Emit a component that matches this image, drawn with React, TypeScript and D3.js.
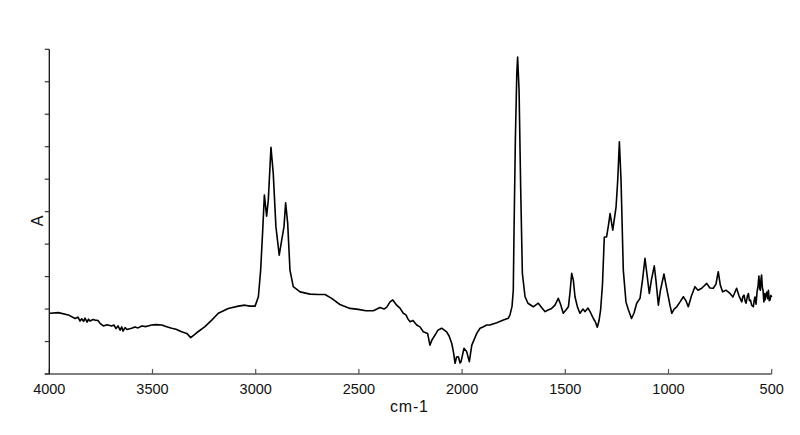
import React from "react";
import * as d3 from "d3";

// Wavenumbers (cm-1) and absorbance (arbitrary units)
const wavenumbers: number[] = [
  3997, 3956, 3908, 3875, 3861, 3851, 3843, 3834, 3827, 3817, 3810, 3803, 3788, 3779, 3764, 3754,
  3738, 3720, 3698, 3687, 3677, 3667, 3657, 3649, 3643, 3633, 3624, 3601, 3585, 3570, 3552, 3531,
  3504, 3483, 3455, 3435, 3407, 3386, 3359, 3334, 3315, 3286, 3246, 3213, 3181, 3133, 3084, 3052,
  3028, 3003, 2987, 2976, 2966, 2958, 2947, 2939, 2926, 2915, 2902, 2886, 2874, 2863, 2855, 2845,
  2834, 2818, 2785, 2737, 2698, 2664, 2632, 2592, 2543, 2503, 2466, 2430, 2398, 2378, 2365, 2349,
  2336, 2317, 2301, 2285, 2272, 2262, 2252, 2238, 2220, 2204, 2188, 2167, 2156, 2146, 2131, 2117,
  2099, 2075, 2063, 2050, 2042, 2034, 2027, 2018, 2010, 2005, 1991, 1978, 1965, 1953, 1929, 1913,
  1899, 1881, 1865, 1832, 1800, 1776, 1768, 1758, 1752, 1749, 1742, 1735, 1731, 1724, 1716, 1708,
  1695, 1681, 1655, 1631, 1613, 1598, 1584, 1566, 1550, 1534, 1523, 1510, 1497, 1485, 1477, 1469,
  1461, 1453, 1441, 1429, 1414, 1405, 1390, 1380, 1364, 1354, 1345, 1337, 1329, 1320, 1311, 1300,
  1291, 1283, 1270, 1254, 1246, 1238, 1230, 1219, 1206, 1194, 1179, 1167, 1154, 1138, 1126, 1114,
  1104, 1093, 1083, 1069, 1061, 1049, 1039, 1022, 1012, 1001, 993, 984, 973, 960, 944, 928,
  915, 904, 889, 872, 857, 839, 828, 815, 799, 783, 770, 759, 749, 738, 722, 702,
  688, 670, 658, 645, 640, 634, 629, 624, 618, 613, 608, 603, 597, 589, 585, 581,
  576, 571, 566, 562, 558, 555, 552, 549, 545, 542, 538, 535, 532, 528, 524, 520,
  516, 512, 508, 504, 500,
];

const absorbance: number[] = [
  0.187, 0.189, 0.182, 0.171, 0.175, 0.163, 0.170, 0.162, 0.172, 0.160, 0.169, 0.163, 0.168, 0.166, 0.165, 0.156,
  0.148, 0.152, 0.148, 0.151, 0.140, 0.148, 0.135, 0.145, 0.132, 0.143, 0.137, 0.141, 0.145, 0.142, 0.148, 0.146,
  0.151, 0.152, 0.151, 0.146, 0.141, 0.138, 0.130, 0.125, 0.112, 0.127, 0.146, 0.166, 0.187, 0.202, 0.209, 0.212,
  0.209, 0.209, 0.238, 0.320, 0.443, 0.551, 0.486, 0.535, 0.698, 0.618, 0.453, 0.366, 0.412, 0.453, 0.527, 0.464,
  0.320, 0.269, 0.253, 0.246, 0.245, 0.245, 0.233, 0.214, 0.202, 0.199, 0.195, 0.195, 0.205, 0.200, 0.206, 0.222,
  0.228, 0.212, 0.203, 0.187, 0.182, 0.169, 0.161, 0.165, 0.151, 0.145, 0.130, 0.125, 0.089, 0.105, 0.120, 0.135,
  0.141, 0.130, 0.117, 0.094, 0.068, 0.033, 0.052, 0.053, 0.034, 0.038, 0.079, 0.069, 0.038, 0.089, 0.125, 0.141,
  0.145, 0.151, 0.151, 0.158, 0.166, 0.172, 0.182, 0.209, 0.258, 0.412, 0.720, 0.925, 0.976, 0.874, 0.566, 0.310,
  0.238, 0.218, 0.207, 0.218, 0.203, 0.192, 0.197, 0.202, 0.212, 0.233, 0.215, 0.187, 0.197, 0.207, 0.252, 0.310,
  0.289, 0.238, 0.206, 0.187, 0.200, 0.192, 0.203, 0.192, 0.171, 0.160, 0.144, 0.163, 0.197, 0.274, 0.422, 0.422,
  0.458, 0.494, 0.443, 0.515, 0.597, 0.715, 0.597, 0.320, 0.222, 0.197, 0.171, 0.188, 0.218, 0.233, 0.289, 0.356,
  0.305, 0.248, 0.289, 0.333, 0.289, 0.212, 0.258, 0.308, 0.274, 0.238, 0.212, 0.187, 0.200, 0.207, 0.222, 0.238,
  0.225, 0.207, 0.240, 0.269, 0.258, 0.264, 0.271, 0.279, 0.265, 0.264, 0.277, 0.315, 0.274, 0.253, 0.258, 0.248,
  0.237, 0.264, 0.240, 0.222, 0.238, 0.243, 0.225, 0.218, 0.240, 0.248, 0.226, 0.228, 0.212, 0.207, 0.226, 0.237,
  0.215, 0.252, 0.272, 0.302, 0.262, 0.258, 0.292, 0.305, 0.265, 0.258, 0.222, 0.248, 0.228, 0.245, 0.252, 0.232,
  0.258, 0.226, 0.228, 0.242, 0.237,
];

const xTicks: number[] = [4000, 3500, 3000, 2500, 2000, 1500, 1000, 500];
const yTicks: number[] = [0, 0.1, 0.2, 0.3, 0.4, 0.5, 0.6, 0.7, 0.8, 0.9, 1.0];
const xLabel = "cm-1";
const yLabel = "A";

const W = 800;
const H = 435;
const left = 49.3;
const right = 771.7;
const top = 49.3;
const bottom = 374;

export default function App() {
  const x = d3.scaleLinear().domain([4000, 500]).range([left, right]);
  const y = d3.scaleLinear().domain([0, 1]).range([bottom, top]);
  const data = wavenumbers.map((w, i) => [w, absorbance[i]] as [number, number]);
  const line = d3
    .line<[number, number]>()
    .x((d) => x(d[0]))
    .y((d) => y(d[1]))
    .curve(d3.curveLinear);
  const font = "'Liberation Sans', Arial, sans-serif";

  return (
    <svg
      width={W}
      height={H}
      style={{ position: "absolute", left: 0, top: 0, background: "#fff" }}
      fontFamily={font}
    >
      <rect x={0} y={0} width={W} height={H} fill="#fff" />
      {/* x axis */}
      <line x1={left - 4.5} x2={right} y1={bottom} y2={bottom} stroke="#555" strokeWidth={1.3} />
      {xTicks.map((t) => (
        <g key={t}>
          <line x1={x(t)} x2={x(t)} y1={bottom} y2={bottom - 5} stroke="#555" strokeWidth={1.2} />
          <text x={x(t)} y={394} textAnchor="middle" fontSize={14.5} fill="#111">
            {t}
          </text>
        </g>
      ))}
      <text x={390} y={411.5} fontSize={16} fill="#111" letterSpacing={0.8}>
        {xLabel}
      </text>
      {/* y axis */}
      <line x1={left} x2={left} y1={top} y2={bottom} stroke="#111" strokeWidth={1.3} />
      {yTicks.map((t) => (
        <line key={t} x1={left - 4.5} x2={left} y1={y(t)} y2={y(t)} stroke="#333" strokeWidth={1.2} />
      ))}
      <text
        transform={`translate(43, 221) rotate(-90)`}
        textAnchor="middle"
        fontSize={16}
        fill="#111"
      >
        {yLabel}
      </text>
      {/* spectrum */}
      <path d={line(data) || ""} fill="none" stroke="#000" strokeWidth={1.6} strokeLinejoin="round" />
    </svg>
  );
}
